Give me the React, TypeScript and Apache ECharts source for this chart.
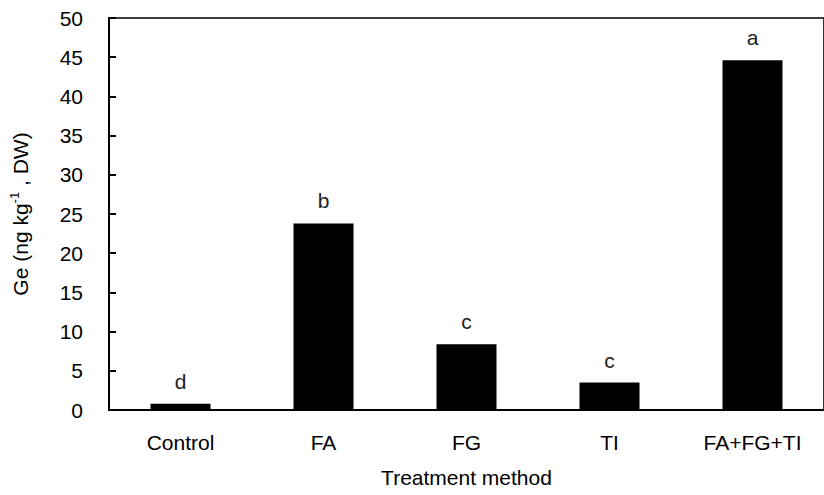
import React, { useEffect, useRef } from "react";
import * as echarts from "echarts";

const categories = ["Control", "FA", "FG", "TI", "FA+FG+TI"];
const geValues = [0.8, 23.8, 8.4, 3.5, 44.6];
const sigLetters = ["d", "b", "c", "c", "a"];

const FONT = "'Liberation Sans', Arial, Helvetica, sans-serif";

export default function App() {
  const ref = useRef<HTMLDivElement>(null);
  useEffect(() => {
    document.body.style.margin = "0";
    const chart = echarts.init(ref.current!, null, { renderer: "svg" });
    chart.setOption({
      animation: false,
      backgroundColor: "#ffffff",
      textStyle: { fontFamily: FONT },
      grid: {
        left: 109,
        top: 18,
        width: 724,
        height: 392,
        show: true,
        borderColor: "#000",
        borderWidth: 1.6,
      },
      xAxis: {
        type: "category",
        data: categories,
        name: "Treatment method",
        nameLocation: "middle",
        nameGap: 57,
        nameTextStyle: { color: "#000", fontSize: 21, fontFamily: FONT },
        axisLine: { lineStyle: { color: "#000", width: 2 } },
        axisTick: { inside: true, length: 7, lineStyle: { color: "#000", width: 2 } },
        axisLabel: { color: "#000", fontSize: 21, margin: 22, fontFamily: FONT },
      },
      yAxis: {
        type: "value",
        min: 0,
        max: 50,
        interval: 5,
        name: "Ge (ng kg{sup|-1} , DW)",
        nameLocation: "middle",
        nameGap: 76,
        nameRotate: 90,
        nameTextStyle: {
          color: "#000",
          fontSize: 21,
          fontFamily: FONT,
          rich: {
            sup: { fontSize: 13, verticalAlign: "top", padding: [0, 0, 12, 0], color: "#000", fontFamily: FONT },
          },
        },
        splitLine: { show: false },
        axisLine: { show: true, lineStyle: { color: "#000", width: 2 } },
        axisTick: { show: true, inside: true, length: 7, lineStyle: { color: "#000", width: 2 } },
        axisLabel: { color: "#000", fontSize: 21, margin: 26, fontFamily: FONT },
      },
      series: [
        {
          type: "bar",
          data: geValues.map((v, i) => ({
            value: v,
            label: { formatter: sigLetters[i] },
          })),
          barWidth: 60,
          itemStyle: { color: "#000" },
          label: {
            show: true,
            position: "top",
            distance: 12,
            color: "#222",
            fontSize: 21,
            fontFamily: FONT,
          },
        },
      ],
    });
    return () => chart.dispose();
  }, []);
  return (
    <div
      ref={ref}
      style={{ position: "absolute", left: 0, top: 0, width: 824, height: 495 }}
    />
  );
}
